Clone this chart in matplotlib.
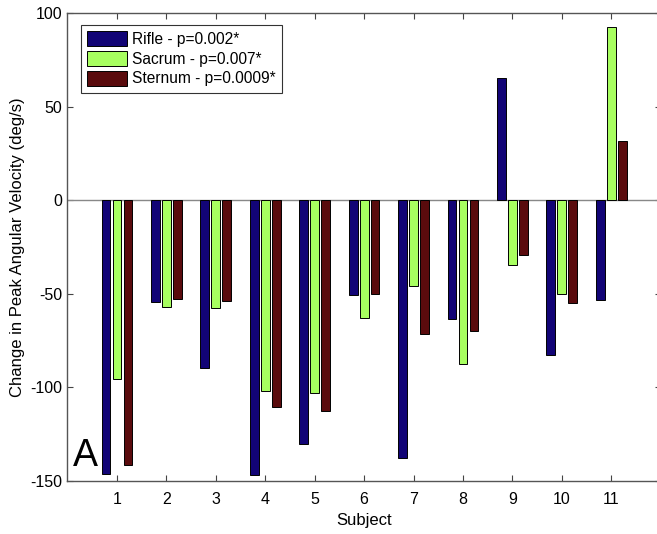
import numpy as np
import matplotlib.pyplot as plt
from matplotlib.patches import Patch

subjects = [1, 2, 3, 4, 5, 6, 7, 8, 9, 10, 11]
rifle = [-146.4, -54.1, -89.7, -147.0, -130.2, -50.3, -137.7, -63.5, 65.3, -82.5, -53.2]
sacrum = [-95.7, -57.1, -57.6, -102.1, -103.0, -62.6, -46.0, -87.7, -34.4, -50.1, 92.9]
sternum = [-141.7, -52.5, -53.9, -110.3, -112.6, -50.1, -71.3, -69.7, -29.1, -54.6, 31.8]
labels = ["Rifle - p=0.002*", "Sacrum - p=0.007*", "Sternum - p=0.0009*"]
colors = ["#120476", "#a8ff60", "#5a0b0d"]

plt.rcParams['font.family'] = ['Liberation Sans', 'DejaVu Sans']
plt.rcParams['axes.unicode_minus'] = False

fig = plt.figure(figsize=(6.57, 5.34), dpi=100)
ax = fig.add_axes([0.1027, 0.0993, 0.903, 0.8756])

x = np.array(subjects)
offset = 0.2222
width = 0.8 * offset
for i, (vals, c) in enumerate(zip([rifle, sacrum, sternum], colors)):
    ax.bar(x + (i - 1) * offset, vals, width, color=c, edgecolor="black",
           linewidth=0.7, zorder=3)

ax.axhline(0, color="#888888", linewidth=1.0, zorder=2)

ax.set_xlim(0, 12)
ax.set_ylim(-150, 100)
ax.set_xticks(subjects)
ax.set_yticks([-150, -100, -50, 0, 50, 100])
ax.tick_params(direction="in", top=True, right=True, labelsize=11.5,
               length=4, color="#444444")
ax.tick_params(axis="x", pad=8)
for s in ax.spines.values():
    s.set_color("#555555")
    s.set_linewidth(1.0)

ax.set_xlabel("Subject", fontsize=12, labelpad=4)
ax.set_ylabel("Change in Peak Angular Velocity (deg/s)", fontsize=12)

handles = [Patch(facecolor=c, edgecolor="black", linewidth=0.7) for c in colors]
leg = ax.legend(handles, labels, loc="upper left", bbox_to_anchor=(0.022, 0.975),
                fontsize=11.2, frameon=True, fancybox=False, edgecolor="black",
                handlelength=2.6, handleheight=1.1, handletextpad=0.3,
                labelspacing=0.25, borderpad=0.4, borderaxespad=0)
leg.get_frame().set_linewidth(0.8)

ax.text(0.01, 0.015, "A", transform=ax.transAxes, fontsize=27, va="bottom", ha="left")

fig.savefig("out.png", dpi=100)
